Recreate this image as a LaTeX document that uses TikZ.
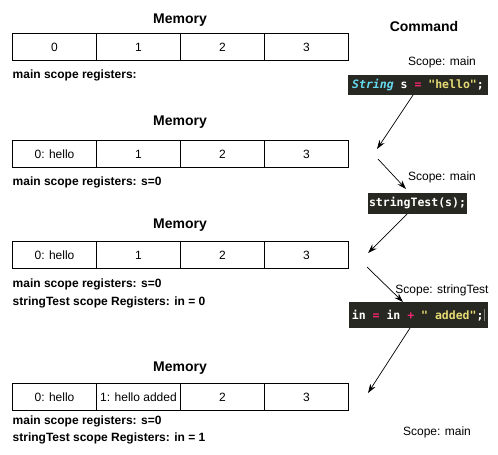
\documentclass[tikz,border=0pt]{standalone}
\usepackage{fontspec}
\setmainfont{Liberation Sans}
\newfontfamily\codefont{DejaVu Sans Mono}
\usetikzlibrary{arrows.meta}
\definecolor{codebg}{HTML}{272822}
\definecolor{kwcyan}{HTML}{66D9EF}
\definecolor{oppink}{HTML}{F92672}
\definecolor{stryellow}{HTML}{E6DB74}
\begin{document}
\begin{tikzpicture}[x=1pt,y=-1pt,
  cell/.style={draw, line width=0.8pt, outer sep=0pt, minimum width=84pt, minimum height=27pt, inner sep=0pt, anchor=west, font=\fontsize{12}{14}\selectfont},
  memtitle/.style={inner sep=0pt, font=\bfseries\fontsize{14}{16}\selectfont},
  reg/.style={anchor=west, inner sep=0pt, font=\bfseries\fontsize{12}{14}\selectfont},
  scopelbl/.style={inner sep=0pt, font=\fontsize{12}{14}\selectfont},
  codebox/.style={fill=codebg, text=white, inner sep=0pt, outer sep=0pt, font=\codefont\bfseries\fontsize{11.5}{13}\selectfont},
  arr/.style={-{Stealth[length=9pt,width=6pt]}, line width=0.7pt}]

\useasboundingbox (0,0) rectangle (498,455);

% ---------- Row 1 ----------
\node[memtitle] (t1) at (180,20) {Memory};
\node[cell] (a0) at (12.5,47) {0};
\node[cell] (a1) at (a0.east) {1};
\node[cell] (a2) at (a1.east) {2};
\node[cell] (a3) at (a2.east) {3};
\node[reg] (r1) at (12.5,75) {main scope registers:};

% ---------- Row 2 ----------
\node[memtitle] (t2) at (180,122) {Memory};
\node[cell] (b0) at (12.5,154) {0: hello};
\node[cell] (b1) at (b0.east) {1};
\node[cell] (b2) at (b1.east) {2};
\node[cell] (b3) at (b2.east) {3};
\node[reg] (r2) at (12.5,182) {main scope registers: s=0};

% ---------- Row 3 ----------
\node[memtitle] (t3) at (180,225) {Memory};
\node[cell] (c0) at (12.5,255) {0: hello};
\node[cell] (c1) at (c0.east) {1};
\node[cell] (c2) at (c1.east) {2};
\node[cell] (c3) at (c2.east) {3};
\node[reg] (r3) at (12.5,284) {main scope registers: s=0};
\node[reg] (r3b) at (12.5,302) {stringTest scope Registers: in = 0};

% ---------- Row 4 ----------
\node[memtitle] (t4) at (180,368) {Memory};
\node[cell] (d0) at (12.5,397) {0: hello};
\node[cell] (d1) at (d0.east) {1: hello added};
\node[cell] (d2) at (d1.east) {2};
\node[cell] (d3) at (d2.east) {3};
\node[reg] (r4) at (12.5,421) {main scope registers: s=0};
\node[reg] (r4b) at (12.5,438) {stringTest scope Registers: in = 1};

% ---------- Command column ----------
\node[memtitle] (cmd) at (424,26) {Command};
\node[scopelbl] (s1) at (442,62) {Scope: main};
\node[codebox, minimum width=140pt, minimum height=20pt] (k1) at (418,85)
  {{\color{kwcyan}\itshape String} s {\color{oppink}=} {\color{stryellow}"hello"};};

\node[scopelbl] (s2) at (442,177) {Scope: main};
\node[codebox, minimum width=99pt, minimum height=21pt] (k2) at (417.5,203.5)
  {stringTest(s);};

\node[scopelbl] (s3) at (442,290) {Scope: stringTest};
\node[codebox, minimum width=139pt, minimum height=26pt] (k3) at (418.5,315)
  {in {\color{oppink}=} in {\color{oppink}+} {\color{stryellow}" added"};\hspace{1pt}{\color{gray}\rule[-2pt]{0.6pt}{12pt}}};

\node[scopelbl] (s4) at (437,432) {Scope: main};

% ---------- Arrows ----------
\coordinate (p1) at (377,149);
\coordinate (p2) at (378,159);
\coordinate (p3) at (406,189);
\coordinate (p4) at (368,253);
\coordinate (p5) at (367,267);
\coordinate (p6) at (368,393);

\draw[arr] ([xshift=-5pt]k1.south) -- (p1);
\draw[arr] (p2) -- (p3);
\draw[arr] ([xshift=-10.5pt]k2.south) -- (p4);
\draw[arr] (p5) -- ([xshift=-15.5pt]k3.north);
\draw[arr] ([xshift=-8.5pt]k3.south) -- (p6);
\end{tikzpicture}
\end{document}
